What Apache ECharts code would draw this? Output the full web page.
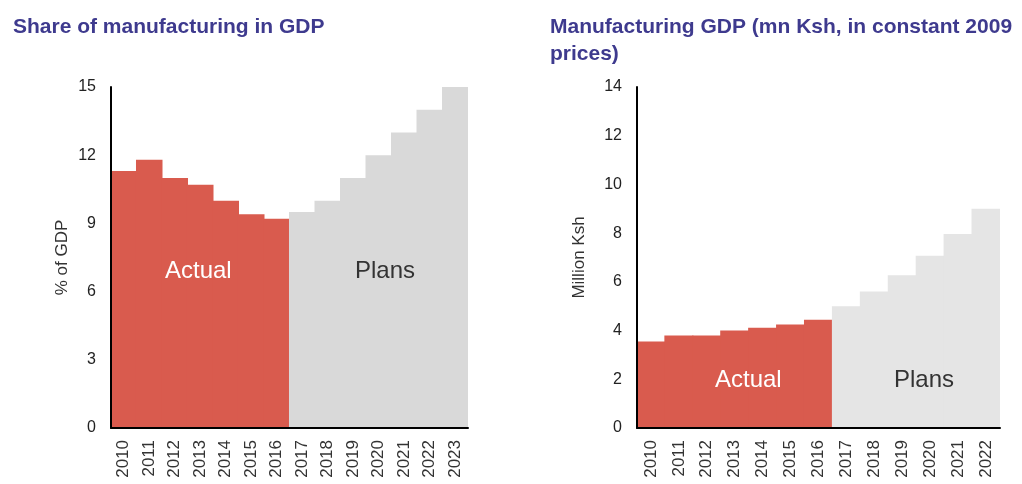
<!DOCTYPE html>
<html><head><meta charset="utf-8">
<script src="https://cdn.jsdelivr.net/npm/echarts@6/dist/echarts.min.js"></script>
<style>html,body{margin:0;padding:0;background:#fff}#c{width:1022px;height:484px}</style>
</head><body><div id="c"></div>
<script>
const yearsLeft = ['2010','2011','2012','2013','2014','2015','2016','2017','2018','2019','2020','2021','2022','2023'];
const shareValues = [11.3, 11.8, 11.0, 10.7, 10.0, 9.4, 9.2, 9.5, 10.0, 11.0, 12.0, 13.0, 14.0, 15.0];
const yearsRight = ['2010','2011','2012','2013','2014','2015','2016','2017','2018','2019','2020','2021','2022'];
const gdpValues = [3.55, 3.8, 3.8, 4.0, 4.12, 4.25, 4.44, 5.0, 5.6, 6.27, 7.07, 7.96, 9.0];
const actualCount = 7; // 2010-2016 actual, rest plans
const leftTicks = [0, 3, 6, 9, 12, 15];
const rightTicks = [0, 2, 4, 6, 8, 10, 12, 14];

const RED = '#D95B4E', GREY_L = '#D9D9D9', GREY_R = '#E5E5E5';
const FONT = 'Liberation Sans, Arial, sans-serif';
function split(vals, actual) {
  return vals.map((v, i) => (i < actualCount) === actual ? v : null);
}
const chart = echarts.init(document.getElementById('c'), null, {renderer: 'canvas'});
function xAxis(idx, cats) {
  return {type: 'category', gridIndex: idx, data: cats, z: 10,
    axisLine: {lineStyle: {color: '#000', width: 2}}, axisTick: {show: false},
    axisLabel: {rotate: 90, fontSize: 17, color: '#333', margin: 12, fontFamily: FONT, interval: 0}};
}
function yAxis(idx, max, interval, name, gap) {
  return {type: 'value', gridIndex: idx, min: 0, max: max, interval: interval,
    name: name, nameLocation: 'middle', nameRotate: 90, nameGap: gap,
    nameTextStyle: {fontSize: 17, color: '#333', fontFamily: FONT},
    axisLine: {show: true, lineStyle: {color: '#000', width: 2}}, axisTick: {show: false},
    splitLine: {show: false}, z: 10,
    axisLabel: {fontSize: 16, color: '#222', margin: 15, fontFamily: FONT}};
}
function bar(ax, data, color) {
  return {type: 'bar', xAxisIndex: ax, yAxisIndex: ax, data: data, z: 2,
    itemStyle: {color: color},
    barWidth: '104%', barGap: '-100%'};
}
const TITLE = {fontSize: 21, fontWeight: 'bold', color: '#3E3A8E', fontFamily: FONT, lineHeight: 27};
chart.setOption({
  animation: false,
  title: [
    {text: 'Share of manufacturing in GDP', left: 8, top: 9, textStyle: TITLE},
    {text: 'Manufacturing GDP (mn Ksh, in constant 2009\nprices)', left: 545, top: 9, textStyle: TITLE}
  ],
  grid: [
    {left: 111, right: 554, top: 87, bottom: 56},
    {left: 637, right: 22, top: 87, bottom: 56}
  ],
  xAxis: [xAxis(0, yearsLeft), xAxis(1, yearsRight)],
  yAxis: [yAxis(0, leftTicks[leftTicks.length-1], leftTicks[1]-leftTicks[0], '% of GDP', 40),
          yAxis(1, rightTicks[rightTicks.length-1], rightTicks[1]-rightTicks[0], 'Million Ksh', 49)],
  series: [
    bar(0, split(shareValues, true), RED),
    bar(0, split(shareValues, false), GREY_L),
    bar(1, split(gdpValues, true), RED),
    bar(1, split(gdpValues, false), GREY_R)
  ],
  graphic: [
    {type: 'text', x: 165, y: 271, z: 100, style: {text: 'Actual', fontSize: 24, fill: '#fff', fontFamily: FONT, verticalAlign: 'middle'}},
    {type: 'text', x: 355, y: 271, z: 100, style: {text: 'Plans', fontSize: 24, fill: '#333', fontFamily: FONT, verticalAlign: 'middle'}},
    {type: 'text', x: 715, y: 380, z: 100, style: {text: 'Actual', fontSize: 24, fill: '#fff', fontFamily: FONT, verticalAlign: 'middle'}},
    {type: 'text', x: 894, y: 380, z: 100, style: {text: 'Plans', fontSize: 24, fill: '#333', fontFamily: FONT, verticalAlign: 'middle'}}
  ]
});
</script></body></html>
